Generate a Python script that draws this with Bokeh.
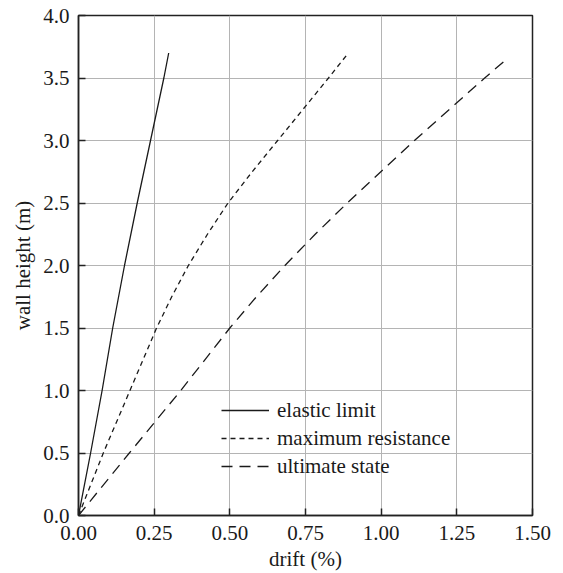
from bokeh.plotting import figure
from bokeh.models import Legend, LegendItem, FixedTicker, Range1d
from bokeh.embed import file_html
from bokeh.resources import INLINE

# data
elastic_height = [0, 0.5, 1.0, 1.5, 2.0, 2.5, 3.0, 3.5, 3.70]
elastic_drift = [0, 0.040, 0.078, 0.113, 0.152, 0.194, 0.238, 0.282, 0.298]

maxres_height = [0, 0.5, 1.0, 1.5, 1.75, 2.0, 2.25, 2.5, 2.75, 3.0, 3.5, 3.68]
maxres_drift = [0, 0.082, 0.170, 0.258, 0.308, 0.363, 0.426, 0.494, 0.574, 0.658, 0.826, 0.885]

ultimate_height = [0, 0.5, 1.0, 1.5, 1.75, 2.0, 2.25, 2.5, 3.0, 3.5, 3.65]
ultimate_drift = [0, 0.168, 0.338, 0.500, 0.588, 0.682, 0.782, 0.888, 1.110, 1.342, 1.414]

x_ticks = [0, 0.25, 0.5, 0.75, 1.0, 1.25, 1.5]
x_tick_labels = ["0.00", "0.25", "0.50", "0.75", "1.00", "1.25", "1.50"]
y_ticks = [0, 0.5, 1.0, 1.5, 2.0, 2.5, 3.0, 3.5, 4.0]
y_tick_labels = ["0.0", "0.5", "1.0", "1.5", "2.0", "2.5", "3.0", "3.5", "4.0"]

FONT = "'Liberation Serif', 'Times New Roman', serif"
TXT = "#1a1a1a"

p = figure(width=563, height=573, output_backend="svg", toolbar_location=None,
           x_range=Range1d(0, 1.5), y_range=Range1d(0, 4.0),
           min_border_left=78, min_border_top=15, min_border_right=31, min_border_bottom=54)

p.outline_line_color = "#222222"
p.outline_line_width = 1.5
p.outline_line_alpha = 1.0

for ax in (p.xaxis[0], p.yaxis[0]):
    ax.major_tick_in = 7
    ax.major_tick_out = 0
    ax.minor_tick_line_color = None
    ax.axis_line_color = "#222222"
    ax.axis_line_width = 1.5
    ax.major_tick_line_color = "#222222"
    ax.major_tick_line_width = 1.5
    ax.major_label_text_font = FONT
    ax.major_label_text_font_size = "21px"
    ax.major_label_text_color = TXT
    ax.axis_label_text_font = FONT
    ax.axis_label_text_font_size = "21px"
    ax.axis_label_text_font_style = "normal"
    ax.axis_label_text_color = TXT

p.xaxis.ticker = FixedTicker(ticks=x_ticks)
p.xaxis.major_label_overrides = {t: l for t, l in zip(x_ticks, x_tick_labels)}
p.yaxis.ticker = FixedTicker(ticks=y_ticks)
p.yaxis.major_label_overrides = {t: l for t, l in zip(y_ticks, y_tick_labels)}
p.xaxis.axis_label = "drift (%)"
p.yaxis.axis_label = "wall height (m)"
p.xaxis.major_label_standoff = 10
p.xaxis.axis_label_standoff = 4
p.yaxis.major_label_standoff = 9
p.yaxis.axis_label_standoff = 5

p.xgrid.grid_line_color = "#b4b4b4"
p.ygrid.grid_line_color = "#b4b4b4"
p.xgrid.grid_line_width = 1
p.ygrid.grid_line_width = 1

r1 = p.line(elastic_drift, elastic_height, line_color="#1a1a1a", line_width=1.3)
r2 = p.line(maxres_drift, maxres_height, line_color="#1a1a1a", line_width=1.3, line_dash="5 4")
r3 = p.line(ultimate_drift, ultimate_height, line_color="#1a1a1a", line_width=1.3, line_dash="11 7")

legend = Legend(items=[LegendItem(label="elastic limit", renderers=[r1]),
                       LegendItem(label="maximum resistance", renderers=[r2]),
                       LegendItem(label="ultimate state", renderers=[r3])],
                location=(143, 35))
legend.background_fill_alpha = 0
legend.border_line_alpha = 0
legend.padding = 0
legend.margin = 0
legend.spacing = 0
legend.glyph_width = 48
legend.glyph_height = 28
legend.label_height = 28
legend.label_standoff = 8
legend.label_text_font = FONT
legend.label_text_font_size = "21px"
legend.label_text_color = TXT
p.add_layout(legend, "center")

open("out.html", "w").write(file_html(p, INLINE))
